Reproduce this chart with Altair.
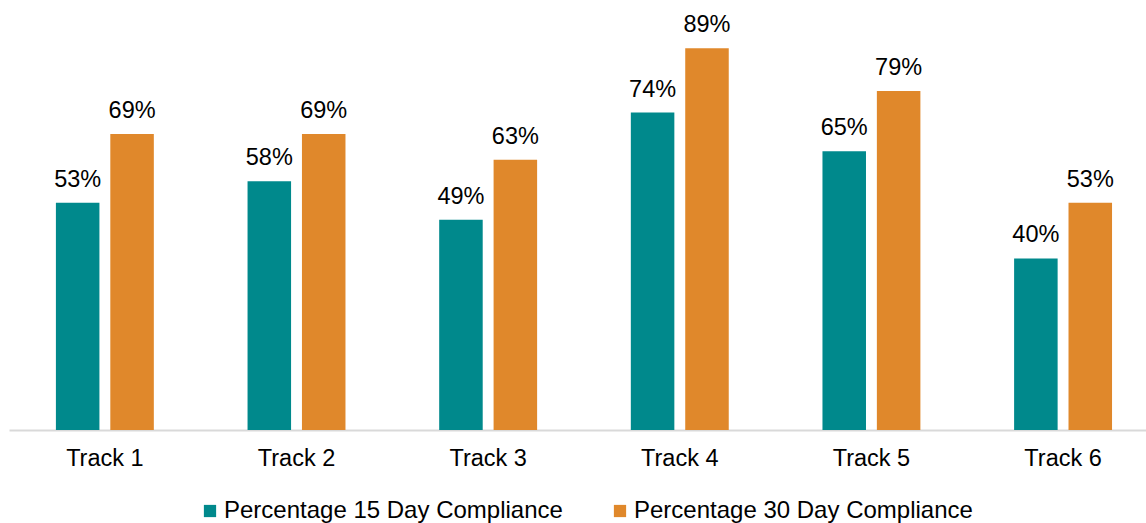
import altair as alt
import pandas as pd

tracks = ["Track 1", "Track 2", "Track 3", "Track 4", "Track 5", "Track 6"]
series = ["Percentage 15 Day Compliance", "Percentage 30 Day Compliance"]
pct_15_day = [53, 58, 49, 74, 65, 40]
pct_30_day = [69, 69, 63, 89, 79, 53]
colors = ["#00898C", "#E0882B"]

rows = []
for t, a, b in zip(tracks, pct_15_day, pct_30_day):
    rows.append({"track": t, "series": series[0], "value": a})
    rows.append({"track": t, "series": series[1], "value": b})
df = pd.DataFrame(rows)

FONT = "Liberation Sans"

x = alt.X(
    "track:N",
    sort=tracks,
    title=None,
    scale=alt.Scale(paddingInner=0.489, paddingOuter=0.211, align=0.58),
    axis=alt.Axis(
        labelAngle=0,
        ticks=False,
        labelPadding=16,
        labelFontSize=23.5,
        labelFont=FONT,
        labelColor="#000000",
        domainColor="#D9D9D9",
        domainWidth=2,
    ),
)
x_off = alt.XOffset("series:N", sort=series, scale=alt.Scale(paddingInner=0.2, paddingOuter=0))
y = alt.Y("value:Q", scale=alt.Scale(domain=[0, 100]), axis=None)

bars = alt.Chart(df).mark_bar().encode(
    x=x,
    xOffset=x_off,
    y=y,
    color=alt.Color(
        "series:N",
        sort=series,
        scale=alt.Scale(domain=series, range=colors),
        legend=alt.Legend(
            title=None,
            orient="none",
            legendX=189,
            legendY=498,
            direction="horizontal",
            symbolType="square",
            symbolSize=150,
            symbolStrokeWidth=0,
            symbolOpacity=1,
            labelFontSize=24,
            labelFont=FONT,
            labelColor="#000000",
            labelOffset=2,
            columnPadding=45,
            labelLimit=500,
        ),
    ),
)

labels = alt.Chart(df).mark_text(
    baseline="alphabetic", dy=-16, fontSize=23.5, font=FONT, color="#000000"
).encode(
    x=x,
    xOffset=x_off,
    y=y,
    text=alt.Text("label:N"),
).transform_calculate(label="datum.value + '%'")

chart = (
    alt.layer(bars, labels)
    .properties(
        width=1137,
        height=429,
        autosize=alt.AutoSizeParams(type="none"),
        padding={"left": 9, "top": 1, "right": 0, "bottom": 93},
        background="#FFFFFF",
    )
    .configure_view(stroke=None)
)

chart.save("out.html", embed_options={"renderer": "svg", "actions": False})
